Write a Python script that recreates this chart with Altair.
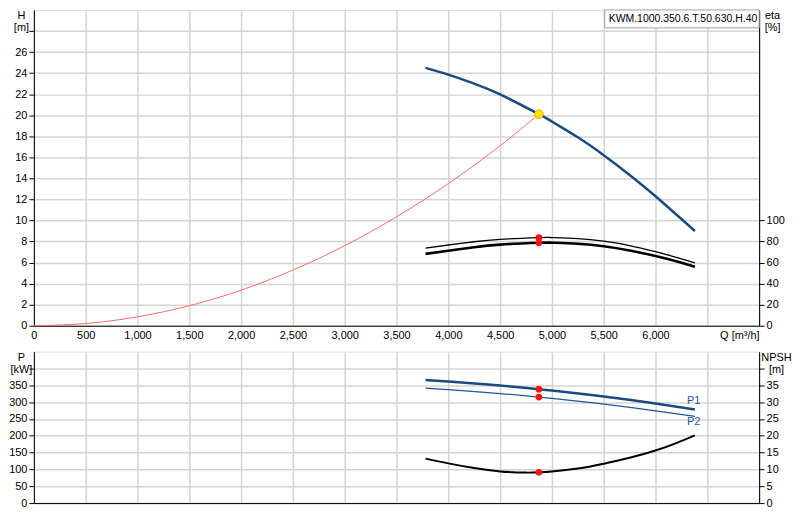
import altair as alt
import pandas as pd

# ---------------- data ----------------
Q_H = [3780, 4000, 4250, 4500, 4874, 5000, 5250, 5500, 5750, 6000, 6380]
H_VALS = [24.5, 23.86, 23.0, 21.98, 20.1, 19.4, 17.9, 16.2, 14.33, 12.3, 9.0]

Q_SYS = [0, 500, 1000, 1500, 2000, 2500, 3000, 3500, 4000, 4500, 4874]
H_SYS = [0, 0.21, 0.85, 1.9, 3.38, 5.29, 7.6, 10.35, 13.5, 17.1, 20.1]

Q_ETA = [3780, 4000, 4250, 4500, 4874, 5000, 5250, 5500, 5750, 6000, 6200, 6380]
ETA1 = [73.8, 76.7, 79.8, 82.1, 83.7, 83.8, 82.8, 80.3, 76.2, 70.3, 65.0, 59.7]
ETA2 = [68.3, 71.2, 74.6, 77.1, 78.8, 78.9, 77.9, 75.6, 71.5, 66.2, 61.2, 56.0]

Q_P = [3780, 4000, 4500, 4874, 5000, 5500, 6000, 6380]
P1 = [366, 361.6, 349.5, 338.5, 334.4, 316.5, 295.7, 278]
P2 = [341.5, 337.2, 325.5, 315, 311.1, 294.1, 274.3, 257.5]

Q_NPSH = [3780, 4000, 4250, 4500, 4750, 4874, 5000, 5250, 5500, 5750, 6000, 6200, 6380]
NPSH = [13.2, 11.8, 10.4, 9.4, 9.05, 9.15, 9.4, 10.25, 11.7, 13.45, 15.6, 17.8, 20.1]

DUTY_Q = [4874]
DUTY_H = [20.1]
DUTY_ETA = [83.7, 78.8]
DUTY_P = [338.5, 315]
DUTY_NPSH = [9.15]

P_LABELS = ["P1", "P2"]
P_LABEL_Q = [6368, 6368]
P_LABEL_P = [304, 240]

PUMP_NAME = ["KWM.1000.350.6.T.50.630.H.40"]

X_TICKS = list(range(0, 7001, 500))

# ---------------- styling ----------------
BLUE = "#1b4a82"
BLUE2 = "#1f5799"
GRID = "#d4d4d4"
FONT = "Liberation Sans"
INTERP = "natural"

df_h = pd.DataFrame({"Q": Q_H, "H": H_VALS})
df_sys = pd.DataFrame({"Q": Q_SYS, "H": H_SYS})
df_e1 = pd.DataFrame({"Q": Q_ETA, "eta": ETA1})
df_e2 = pd.DataFrame({"Q": Q_ETA, "eta": ETA2})
df_duty = pd.DataFrame({"Q": DUTY_Q, "H": DUTY_H})
df_duty_eta = pd.DataFrame({"Q": DUTY_Q * len(DUTY_ETA), "eta": DUTY_ETA})
df_p1 = pd.DataFrame({"Q": Q_P, "P": P1})
df_p2 = pd.DataFrame({"Q": Q_P, "P": P2})
df_duty_p = pd.DataFrame({"Q": DUTY_Q * len(DUTY_P), "P": DUTY_P})
df_npsh = pd.DataFrame({"Q": Q_NPSH, "NPSH": NPSH})
df_duty_npsh = pd.DataFrame({"Q": DUTY_Q, "NPSH": DUTY_NPSH})
df_lab = pd.DataFrame({"Q": P_LABEL_Q, "P": P_LABEL_P, "t": P_LABELS})
df_name = pd.DataFrame({"t": PUMP_NAME})

xscale = alt.Scale(domain=[0, 7000], nice=False, zero=False)

common_axis = dict(
    domainColor="black", domainWidth=1, tickColor="black", tickSize=5,
    labelColor="black", labelFontSize=11, labelFont=FONT,
    titleColor="black", titleFont=FONT, titleFontWeight="normal", titleFontSize=11,
)

X_TOP = alt.X(
    "Q:Q", scale=xscale,
    axis=alt.Axis(
        values=X_TICKS, title=None, ticks=False, labelPadding=4,
        grid=True, gridColor=GRID, gridWidth=1.5,
        labelExpr="datum.value == 7000 ? 'Q [m³/h]' : (datum.value == 6500 ? '' : format(datum.value, ','))",
        labelAlign={"condition": {"test": "datum.value == 7000", "value": "right"}, "value": "center"},
        labelBound=False, labelOverlap=False, labelFlush=False,
        **common_axis,
    ),
)

X_BOT = alt.X(
    "Q:Q", scale=xscale,
    axis=alt.Axis(values=X_TICKS, labels=False, ticks=False, title=None,
                  grid=True, gridColor=GRID, gridWidth=1.5, **common_axis),
)

Y_H = alt.Y(
    "H:Q", scale=alt.Scale(domain=[0, 30], nice=False),
    axis=alt.Axis(
        orient="left", values=list(range(0, 30, 2)),
        labelExpr="datum.value == 28 ? '' : datum.label",
        grid=True, gridColor=GRID, gridWidth=1.5, labelPadding=2,
        title=["H", "[m]"], titleAngle=0, titleX=-13, titleY=0,
        titleBaseline="top", titleAlign="center", titleLineHeight=12,
        **common_axis,
    ),
)

Y_ETA = alt.Y(
    "eta:Q", scale=alt.Scale(domain=[0, 300], nice=False),
    axis=alt.Axis(
        orient="right", values=list(range(0, 101, 20)), grid=False, labelPadding=2,
        title=["eta", "[%]"], titleAngle=0, titleX=13, titleY=0,
        titleBaseline="top", titleAlign="center", titleLineHeight=12,
        **common_axis,
    ),
)

Y_P = alt.Y(
    "P:Q", scale=alt.Scale(domain=[0, 450], nice=False),
    axis=alt.Axis(
        orient="left", values=list(range(0, 401, 50)),
        labelExpr="datum.value == 400 ? '' : datum.label",
        grid=True, gridColor=GRID, gridWidth=1.5, labelPadding=2,
        title=["P", "[kW]"], titleAngle=0, titleX=-13, titleY=0,
        titleBaseline="top", titleAlign="center", titleLineHeight=12,
        **common_axis,
    ),
)

Y_NPSH = alt.Y(
    "NPSH:Q", scale=alt.Scale(domain=[0, 45], nice=False),
    axis=alt.Axis(
        orient="right", values=list(range(0, 41, 5)),
        labelExpr="datum.value == 40 ? '' : datum.label",
        grid=False, labelPadding=2,
        title=["NPSH", "[m]"], titleAngle=0, titleX=17, titleY=0,
        titleBaseline="top", titleAlign="center", titleLineHeight=12,
        **common_axis,
    ),
)

# ---------------- top chart ----------------
h_line = alt.Chart(df_h).mark_line(color=BLUE, strokeWidth=2.5, interpolate=INTERP).encode(x=X_TOP, y=Y_H)
sys_line = alt.Chart(df_sys).mark_line(color="#ff6a6a", strokeWidth=1, interpolate=INTERP).encode(x=X_TOP, y=Y_H)
duty = alt.Chart(df_duty).mark_point(filled=True, fill="#ffe600", stroke="#ff9a00", strokeWidth=1,
                                     size=75, opacity=1).encode(x=X_TOP, y=Y_H)
name_box = alt.Chart(df_name).mark_rect(fill="white", stroke="#a0a0a0", strokeWidth=1).encode(
    x=alt.value(573), x2=alt.value(728), y=alt.value(0), y2=alt.value(18))
name_text = alt.Chart(df_name).mark_text(align="left", baseline="middle", fontSize=10.5, font=FONT,
                                         color="black").encode(
    x=alt.value(577), y=alt.value(9.5), text="t:N")

eta1_line = alt.Chart(df_e1).mark_line(color="black", strokeWidth=1.3, interpolate=INTERP).encode(x=X_TOP, y=Y_ETA)
eta2_line = alt.Chart(df_e2).mark_line(color="black", strokeWidth=2.6, interpolate=INTERP).encode(x=X_TOP, y=Y_ETA)
eta_dots = alt.Chart(df_duty_eta).mark_circle(color="#ff1010", size=45, opacity=1).encode(x=X_TOP, y=Y_ETA)

top = alt.layer(
    alt.layer(h_line, sys_line, duty, name_box, name_text),
    alt.layer(eta1_line, eta2_line, eta_dots),
).resolve_scale(y="independent").properties(width=728, height=317)

# ---------------- bottom chart ----------------
p1_line = alt.Chart(df_p1).mark_line(color=BLUE, strokeWidth=2.5, interpolate=INTERP).encode(x=X_BOT, y=Y_P)
p2_line = alt.Chart(df_p2).mark_line(color=BLUE2, strokeWidth=1.3, interpolate=INTERP).encode(x=X_BOT, y=Y_P)
p_dots = alt.Chart(df_duty_p).mark_circle(color="#ff1010", size=45, opacity=1).encode(x=X_BOT, y=Y_P)
p_labels = alt.Chart(df_lab).mark_text(color=BLUE2, fontSize=11, font=FONT, align="center",
                                       baseline="middle").encode(x=X_BOT, y=Y_P, text="t:N")

npsh_line = alt.Chart(df_npsh).mark_line(color="black", strokeWidth=2, interpolate=INTERP).encode(x=X_BOT, y=Y_NPSH)
npsh_dot = alt.Chart(df_duty_npsh).mark_circle(color="#ff1010", size=45, opacity=1).encode(x=X_BOT, y=Y_NPSH)

bottom = alt.layer(
    alt.layer(p1_line, p2_line, p_dots, p_labels),
    alt.layer(npsh_line, npsh_dot),
).resolve_scale(y="independent").properties(width=728, height=152)

chart = alt.vconcat(top, bottom, spacing=26, bounds="flush").properties(
    padding=0, background="white"
).configure_view(stroke="#cfcfcf", strokeWidth=1).configure(font=FONT)

chart.save("out.html", embed_options={"renderer": "svg", "actions": False})
